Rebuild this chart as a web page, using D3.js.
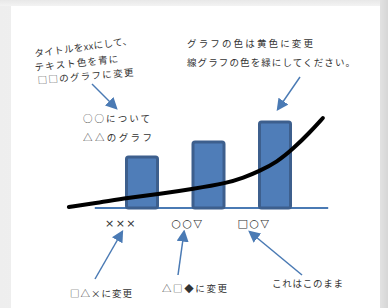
<!DOCTYPE html>
<html>
<head>
<meta charset="utf-8">
<script src="https://cdn.jsdelivr.net/npm/d3@7"></script>
<style>
  html, body { margin: 0; padding: 0; background: #fff; }
  svg { display: block; }
  text { font-family: "Noto Sans CJK JP", "Noto Sans", sans-serif; fill: #333; }
</style>
</head>
<body>
<div id="chart"></div>
<script>
  // chart values
  var categories = ['×××', '○○▽', '□○▽'];
  var barValues = [5.1, 6.6, 8.6];
  var curveX = [-1.1, -0.63, -0.23, 0.27, 0.77, 1.28, 1.52, 1.77, 2.03, 2.27, 2.53, 2.72];
  var curveY = [0.1, 0.55, 1.0, 1.4, 1.9, 2.5, 3.0, 3.7, 4.6, 5.9, 7.6, 9.0];

  // annotations: text lines and arrows
  var notes = [
    { text: 'タイトルをxxにして、', x: 35, y: 57, len: 98, rot: -7.6 },
    { text: 'テキスト色を青に', x: 35, y: 71, len: 84, rot: -6 },
    { text: '□□のグラフに変更', x: 38, y: 84, len: 96, rot: -5 },
    { text: 'グラフの色は黄色に変更', x: 187, y: 47, len: 126, rot: 0 },
    { text: '線グラフの色を緑にしてください。', x: 187, y: 66, len: 168, rot: 0 },
    { text: '○○について', x: 83, y: 122, len: 67, rot: 0 },
    { text: '△△のグラフ', x: 83, y: 141, len: 69, rot: 0 },
    { text: '□△×に変更', x: 70, y: 297, len: 62, rot: 0 },
    { text: '△□◆に変更', x: 162, y: 292, len: 65, rot: 0 },
    { text: 'これはこのまま', x: 272, y: 287, len: 71, rot: 0 }
  ];
  var arrows = [
    [92, 84, 116, 108],
    [300, 77, 278, 109],
    [95, 279, 122, 232],
    [178, 275, 184, 232],
    [302, 275, 250, 232]
  ];

  var W = 388;
  var H = 308;
  var BLUE = '#4a7ab4';

  var svg = d3.select('#chart').append('svg')
    .attr('width', W)
    .attr('height', H);

  var defs = svg.append('defs');
  var gLeft = defs.append('linearGradient').attr('id', 'shadeLeft');
  gLeft.append('stop').attr('offset', '0%').attr('stop-color', '#eeeeee');
  gLeft.append('stop').attr('offset', '100%').attr('stop-color', '#f8f8f8');
  var gRight = defs.append('linearGradient').attr('id', 'shadeRight');
  gRight.append('stop').attr('offset', '0%').attr('stop-color', '#e2e2e2');
  gRight.append('stop').attr('offset', '100%').attr('stop-color', '#d6d6d6');
  var gTop = defs.append('linearGradient').attr('id', 'shadeTop')
    .attr('x1', 0).attr('y1', 0).attr('x2', 0).attr('y2', 1);
  gTop.append('stop').attr('offset', '0%').attr('stop-color', '#e8e8e8');
  gTop.append('stop').attr('offset', '100%').attr('stop-color', '#f3f3f3');

  defs.append('marker')
    .attr('id', 'head')
    .attr('viewBox', '0 0 10 10')
    .attr('refX', 8)
    .attr('refY', 5)
    .attr('markerWidth', 8)
    .attr('markerHeight', 8)
    .attr('markerUnits', 'strokeWidth')
    .attr('orient', 'auto')
    .append('path')
    .attr('d', 'M0,0 L10,5 L0,10 Z')
    .attr('fill', BLUE);

  // paper with shadow
  svg.append('rect').attr('width', W).attr('height', H).attr('fill', 'url(#shadeLeft)');
  svg.append('rect').attr('width', W).attr('height', 6).attr('fill', 'url(#shadeTop)');
  svg.append('rect').attr('x', 380).attr('width', 8).attr('height', H).attr('fill', 'url(#shadeRight)');
  svg.append('rect').attr('x', 11).attr('y', 6).attr('width', 369).attr('height', H).attr('fill', '#fff');

  // scales
  var x = d3.scaleLinear().domain([0, 2]).range([142, 275]);
  var y = d3.scaleLinear().domain([0, 10]).range([208, 108]);
  var barWidth = 31;

  // axis line
  svg.append('line')
    .attr('x1', x(-0.71))
    .attr('x2', x(2.8))
    .attr('y1', y(0))
    .attr('y2', y(0))
    .attr('stroke', BLUE)
    .attr('stroke-width', 2);

  // bars
  svg.selectAll('.bar')
    .data(barValues)
    .enter()
    .append('rect')
    .attr('class', 'bar')
    .attr('x', function (d, i) { return x(i) - barWidth / 2; })
    .attr('y', function (d) { return y(d); })
    .attr('width', barWidth)
    .attr('height', function (d) { return y(0) - y(d); })
    .attr('rx', 2)
    .attr('fill', '#4f7db8')
    .attr('stroke', '#3d5f8d')
    .attr('stroke-width', 3);

  // category labels
  svg.selectAll('.cat')
    .data(categories)
    .enter()
    .append('text')
    .attr('class', 'cat')
    .attr('x', function (d, i) { return x(i) - 21; })
    .attr('y', 227)
    .attr('text-anchor', 'middle')
    .attr('font-size', 11)
    .attr('letter-spacing', 1.5)
    .style('font-family', '"DejaVu Sans", sans-serif')
    .style('fill', '#333')
    .text(function (d) { return d; });

  // curve
  var curvePoints = curveX.map(function (v, i) { return [v, curveY[i]]; });
  var line = d3.line()
    .x(function (d) { return x(d[0]); })
    .y(function (d) { return y(d[1]); })
    .curve(d3.curveBasis);
  svg.append('path')
    .datum(curvePoints)
    .attr('d', line)
    .attr('fill', 'none')
    .attr('stroke', '#000')
    .attr('stroke-width', 4)
    .attr('stroke-linecap', 'round');

  // annotation text
  svg.selectAll('.note')
    .data(notes)
    .enter()
    .append('text')
    .attr('class', 'note')
    .attr('x', function (d) { return d.x; })
    .attr('y', function (d) { return d.y; })
    .attr('transform', function (d) { return 'rotate(' + d.rot + ',' + d.x + ',' + d.y + ')'; })
    .attr('font-size', 9.5)
    .attr('textLength', function (d) { return d.len; })
    .attr('lengthAdjust', 'spacing')
    .text(function (d) { return d.text; });

  // arrows
  svg.selectAll('.arrow')
    .data(arrows)
    .enter()
    .append('line')
    .attr('class', 'arrow')
    .attr('x1', function (d) { return d[0]; })
    .attr('y1', function (d) { return d[1]; })
    .attr('x2', function (d) { return d[2]; })
    .attr('y2', function (d) { return d[3]; })
    .attr('stroke', BLUE)
    .attr('stroke-width', 1.5)
    .attr('marker-end', 'url(#head)');
</script>
</body>
</html>
